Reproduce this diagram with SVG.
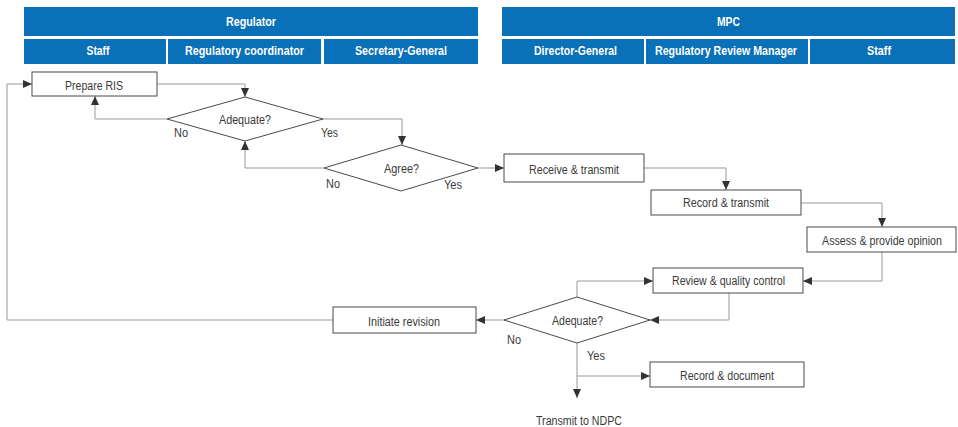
<svg xmlns="http://www.w3.org/2000/svg" width="958" height="427" viewBox="0 0 958 427">
  <style>
    .hdr { fill: #0a70b8; }
    .ht { fill: #ffffff; font-family: "Liberation Sans", Arial, sans-serif; font-weight: bold; font-size: 12px; text-anchor: middle; }
    .box { fill: #ffffff; stroke: #4a4a4a; stroke-width: 1; }
    .t { fill: #3a3a3a; font-family: "Liberation Sans", Arial, sans-serif; font-size: 12.5px; text-anchor: middle; }
    .lbl { fill: #3a3a3a; font-family: "Liberation Sans", Arial, sans-serif; font-size: 12.5px; }
    .c { fill: none; stroke: #999999; stroke-width: 1; marker-end: url(#ah); }
  </style>
  <defs>
    <marker id="ah" viewBox="0 0 10 10" refX="10" refY="5" markerWidth="9" markerHeight="8" markerUnits="userSpaceOnUse" orient="auto" preserveAspectRatio="none">
      <path d="M0,0 L10,5 L0,10 z" fill="#333333"/>
    </marker>
  </defs>

  <!-- swimlane headers -->
  <g id="header-regulator">
    <rect class="hdr" x="24" y="7" width="454" height="29"/>
    <text class="ht" x="251" y="26" textLength="50" lengthAdjust="spacingAndGlyphs">Regulator</text>
    <rect class="hdr" x="24" y="39" width="142" height="25"/>
    <text class="ht" x="98" y="54.5" textLength="23" lengthAdjust="spacingAndGlyphs">Staff</text>
    <rect class="hdr" x="168" y="39" width="153" height="25"/>
    <text class="ht" x="244.5" y="54.5" textLength="119" lengthAdjust="spacingAndGlyphs">Regulatory coordinator</text>
    <rect class="hdr" x="324" y="39" width="154" height="25"/>
    <text class="ht" x="401" y="54.5" textLength="92" lengthAdjust="spacingAndGlyphs">Secretary-General</text>
  </g>
  <g id="header-mpc">
    <rect class="hdr" x="502" y="7" width="453" height="29"/>
    <text class="ht" x="728.5" y="26" textLength="23" lengthAdjust="spacingAndGlyphs">MPC</text>
    <rect class="hdr" x="502" y="39" width="142" height="25"/>
    <text class="ht" x="575.5" y="54.5" textLength="83" lengthAdjust="spacingAndGlyphs">Director-General</text>
    <rect class="hdr" x="646" y="39" width="162" height="25"/>
    <text class="ht" x="726" y="54.5" textLength="142" lengthAdjust="spacingAndGlyphs">Regulatory Review Manager</text>
    <rect class="hdr" x="810" y="39" width="145" height="25"/>
    <text class="ht" x="879" y="54.5" textLength="24" lengthAdjust="spacingAndGlyphs">Staff</text>
  </g>

  <!-- connectors -->
  <g id="connectors">
    <path class="c" d="M157,84 H245 V97"/>
    <path class="c" d="M167,119 H95 V96"/>
    <path class="c" d="M323,119 H402 V145"/>
    <path class="c" d="M324,168 H245 V141"/>
    <path class="c" d="M478,168 H504"/>
    <path class="c" d="M644,168 H726 V190"/>
    <path class="c" d="M801,203 H882 V227"/>
    <path class="c" d="M882,252 V281 H803"/>
    <path class="c" d="M729,293 V320 H650"/>
    <path class="c" d="M577,297 V281 H653"/>
    <path class="c" d="M504,320 H476"/>
    <path class="c" d="M333,320 H7 V84 H32"/>
    <path class="c" d="M577,342 V398"/>
    <path class="c" d="M577,376 H650"/>
    <text class="lbl" x="174" y="137" textLength="14" lengthAdjust="spacingAndGlyphs">No</text>
    <text class="lbl" x="321" y="137" textLength="17" lengthAdjust="spacingAndGlyphs">Yes</text>
    <text class="lbl" x="326" y="187.5" textLength="14" lengthAdjust="spacingAndGlyphs">No</text>
    <text class="lbl" x="444" y="189" textLength="18" lengthAdjust="spacingAndGlyphs">Yes</text>
    <text class="lbl" x="507" y="344" textLength="14" lengthAdjust="spacingAndGlyphs">No</text>
    <text class="lbl" x="587" y="360" textLength="18" lengthAdjust="spacingAndGlyphs">Yes</text>
    <text class="t" x="579" y="425" textLength="86" lengthAdjust="spacingAndGlyphs">Transmit to NDPC</text>
  </g>

  <!-- process steps -->
  <g id="prepare-ris">
    <rect class="box" x="32" y="72" width="125" height="24"/>
    <text class="t" x="94" y="90" textLength="58" lengthAdjust="spacingAndGlyphs">Prepare RIS</text>
  </g>
  <g id="adequate-1">
    <polygon class="box" points="245,97 323,119 245,141 167,119"/>
    <text class="t" x="245" y="124" textLength="52" lengthAdjust="spacingAndGlyphs">Adequate?</text>
  </g>
  <g id="agree">
    <polygon class="box" points="401,145 478,168 401,191 324,168"/>
    <text class="t" x="401.5" y="173.3" textLength="35" lengthAdjust="spacingAndGlyphs">Agree?</text>
  </g>
  <g id="receive-transmit">
    <rect class="box" x="504" y="154" width="140" height="28"/>
    <text class="t" x="574" y="174" textLength="90" lengthAdjust="spacingAndGlyphs">Receive &amp; transmit</text>
  </g>
  <g id="record-transmit">
    <rect class="box" x="651" y="190" width="150" height="25"/>
    <text class="t" x="726" y="207" textLength="86" lengthAdjust="spacingAndGlyphs">Record &amp; transmit</text>
  </g>
  <g id="assess-opinion">
    <rect class="box" x="807" y="227" width="149" height="25"/>
    <text class="t" x="882" y="244.5" style="font-size:12px" textLength="120" lengthAdjust="spacingAndGlyphs">Assess &amp; provide opinion</text>
  </g>
  <g id="review-quality">
    <rect class="box" x="653" y="268" width="150" height="25"/>
    <text class="t" x="728.5" y="285" textLength="113" lengthAdjust="spacingAndGlyphs">Review &amp; quality control</text>
  </g>
  <g id="adequate-2">
    <polygon class="box" points="577,297 650,320 577,343 504,320"/>
    <text class="t" x="577.5" y="325" textLength="51" lengthAdjust="spacingAndGlyphs">Adequate?</text>
  </g>
  <g id="initiate-revision">
    <rect class="box" x="333" y="307" width="143" height="26"/>
    <text class="t" x="404" y="326" textLength="72" lengthAdjust="spacingAndGlyphs">Initiate revision</text>
  </g>
  <g id="record-document">
    <rect class="box" x="650" y="362" width="154" height="25"/>
    <text class="t" x="727" y="380" textLength="94" lengthAdjust="spacingAndGlyphs">Record &amp; document</text>
  </g>
</svg>
